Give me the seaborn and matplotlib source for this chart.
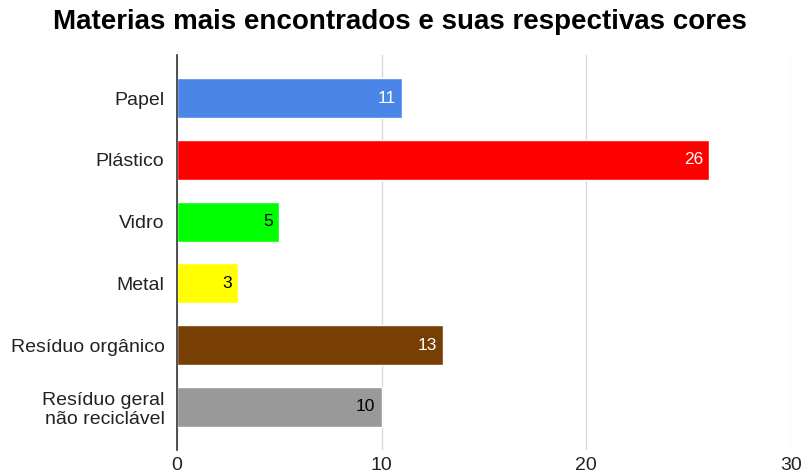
import matplotlib
matplotlib.use('Agg')
import matplotlib.pyplot as plt
import seaborn as sns
import pandas as pd

# data
materiais = ['Papel', 'Plástico', 'Vidro', 'Metal', 'Resíduo orgânico', 'Resíduo geral\nnão reciclável']
quantidades = [11, 26, 5, 3, 13, 10]
cores = ['#4a86e8', '#ff0000', '#00ff00', '#ffff00', '#783f04', '#999999']
cores_texto = ['white', 'white', 'black', 'black', 'white', 'black']

df = pd.DataFrame({'Material': materiais, 'Quantidade': quantidades})

sns.set_style('white')
plt.rcParams['font.family'] = ['Liberation Sans', 'DejaVu Sans']

fig = plt.figure(figsize=(8.04, 4.73), dpi=100)
ax = fig.add_axes([0.2201, 0.0486, 0.7637, 0.8351])

sns.barplot(data=df, x='Quantidade', y='Material', hue='Material',
            palette=cores, legend=False, width=0.65, ax=ax, saturation=1)

# value labels inside the end of each bar
for i, (v, c) in enumerate(zip(quantidades, cores_texto)):
    ax.text(v - 0.3, i, str(v), ha='right', va='center', fontsize=12.5, color=c)

ax.set_xlim(0, 30)
ax.set_ylim(5.7, -0.7)
ax.set_xticks([0, 10, 20, 30])
ax.grid(axis='x', color='#d9d9d9', linewidth=1)
ax.set_axisbelow(True)
for s in ['top', 'right', 'bottom']:
    ax.spines[s].set_visible(False)
ax.spines['left'].set_color('#333333')
ax.spines['left'].set_linewidth(1.2)
ax.spines['left'].set_zorder(5)
ax.tick_params(axis='both', length=0, labelsize=14, colors='#222222')
ax.tick_params(axis='x', pad=5)
ax.tick_params(axis='y', pad=9)
ax.set_xlabel('')
ax.set_ylabel('')

fig.suptitle('Materias mais encontrados e suas respectivas cores',
             fontsize=20, fontweight='bold', x=0.498, y=0.98, color='black')

fig.savefig('out.png', dpi=100)
